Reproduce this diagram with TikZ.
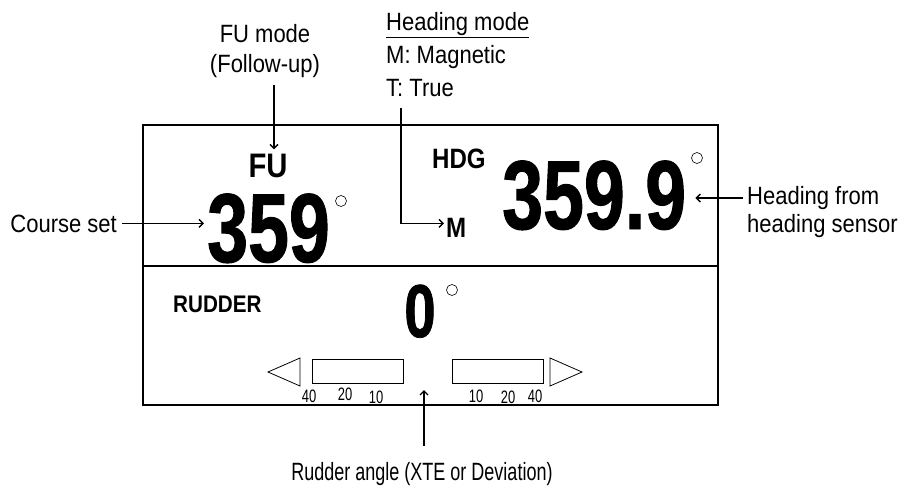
\documentclass[tikz,border=0pt]{standalone}
\usepackage{fontspec}
\setmainfont{Liberation Sans}
\newfontfamily\labelfont[FakeStretch=0.88]{Liberation Sans}
\newfontfamily\numfont[FakeStretch=0.75,FakeBold=1]{Liberation Sans}
\newfontfamily\tagfont[FakeStretch=0.86]{Liberation Sans}
\newfontfamily\narrowfont[FakeStretch=0.72]{Liberation Sans}
\usetikzlibrary{arrows.meta,positioning}
\tikzset{
  lbl/.style={inner sep=0pt, font=\labelfont\fontsize{25}{30}\selectfont},
  frame/.style={draw=black, line width=1.8pt},
  arrow/.style={-{Straight Barb[length=4pt,width=8pt]}, line width=1.4pt},
  bignum/.style={inner sep=0pt, font=\numfont\bfseries\fontsize{98}{98}\selectfont},
  tagtxt/.style={inner sep=0pt, font=\tagfont\bfseries\fontsize{28}{28}\selectfont},
  deg/.style={circle, draw, line width=0.6pt, minimum size=11pt, inner sep=0pt},
  bar/.style={draw, line width=0.8pt, minimum width=91pt, minimum height=24pt, inner sep=0pt},
  tri/.style={draw, line width=0.8pt, line join=miter},
  scalenum/.style={inner sep=0pt, font=\narrowfont\fontsize{18}{18}\selectfont},
}

\begin{document}
\begin{tikzpicture}[x=1pt,y=-1pt]
\useasboundingbox (0,0) rectangle (903,491);
% display frame
\draw[frame] (143,125) rectangle (718,405);
\draw[frame] (143,266) -- (718,266);
% course set (left half)
\node[lbl, align=center, anchor=north] (fumode) at (265,24) {FU mode\\(Follow-up)};
\node[tagtxt, font=\tagfont\bfseries\fontsize{34}{34}\selectfont, anchor=base] (fu) at (268,177) {FU};
\node[bignum, anchor=base west] (crs) at (207,262) {359};
\node[deg] (crsdeg) at (341,201) {};
\node[lbl, anchor=base east] (course) at (117,232) {Course set};
\draw[arrow, shorten <=7pt, shorten >=4pt] ([xshift=6pt]fu.north |- fumode.south) -- ([xshift=6pt]fu.north);
\draw[arrow, shorten <=5pt, shorten >=3pt] (course.east) -- (course.east -| crs.west);
% heading (right half)
\node[lbl, align=left, anchor=north west, font=\labelfont\fontsize{25}{33}\selectfont] (hdgmode) at (386,12)
  {\underline{Heading mode}\\M: Magnetic\\T: True};
\node[tagtxt, anchor=base west] (hdg) at (432,168) {HDG};
\node[tagtxt, anchor=base west] (mlbl) at (446,237) {M};
\node[bignum, anchor=base west] (hdgval) at (502,229) {359.9};
\node[deg] (hdgdeg) at (697,158) {};
\node[lbl, align=left, anchor=north west, font=\labelfont\fontsize{25}{28}\selectfont] (hdgsrc) at (747,186)
  {Heading from\\heading sensor};
\draw[arrow, shorten <=11pt, shorten >=2pt] ([xshift=15pt]hdgmode.south west) |- ([yshift=4pt]mlbl.west);
\draw[arrow, shorten <=4pt, shorten >=9pt] ([yshift=-12pt]hdgsrc.north west) -- ([yshift=-12pt]hdgsrc.north west -| hdgval.east);
% rudder (lower half)
\node[tagtxt, font=\tagfont\bfseries\fontsize{24}{24}\selectfont, anchor=base west] (rudder) at (173,312) {RUDDER};
\node[bignum, font=\numfont\bfseries\fontsize{75}{75}\selectfont, anchor=base] (rudval) at (420,337) {0};
\node[deg] (ruddeg) at (452,290) {};
\node[bar] (barl) at (357.5,371) {};
\node[bar] (barr) at (497.5,371) {};
\draw[tri] (300,358) -- (268,372) -- (300,386) -- cycle;
\draw[tri] (550,358) -- (582,372) -- (550,386) -- cycle;
\foreach \x/\y/\t [count=\i] in {309/402/40, 345/400/20, 376/403/10, 476/402/10, 508/403/20, 535/402/40}
  \node[scalenum, anchor=base] (tick\i) at (\x,\y) {\t};
\coordinate (rudtip) at (424,390);
\node[lbl, font=\narrowfont\fontsize{25}{25}\selectfont, anchor=base] (rudlbl) at (422,480) {Rudder angle (XTE or Deviation)};
\draw[arrow, shorten <=16pt] (rudlbl.north -| rudtip) -- (rudtip);
\end{tikzpicture}
\end{document}
